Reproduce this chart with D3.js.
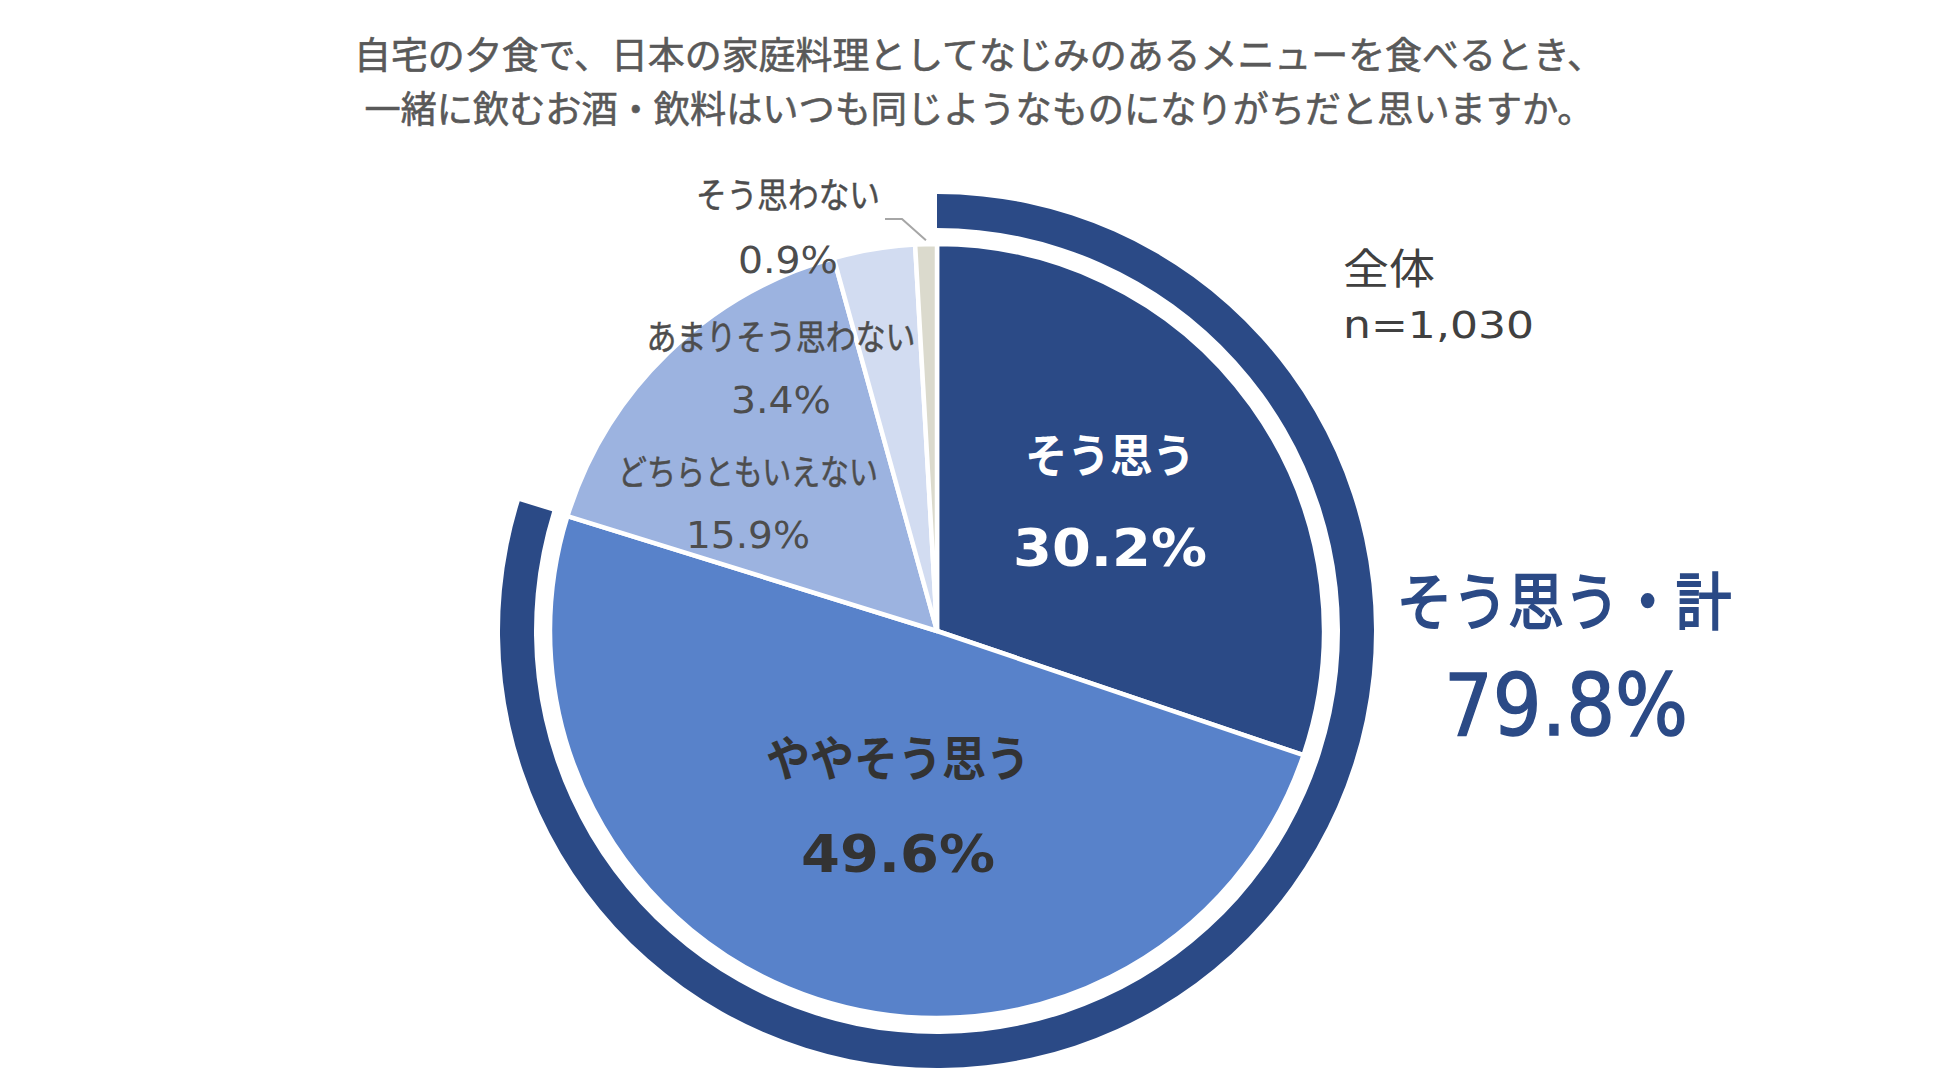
<!DOCTYPE html>
<html>
<head>
<meta charset="utf-8">
<script src="https://cdn.jsdelivr.net/npm/d3@7"></script>
<style>
  html, body { margin: 0; padding: 0; background: #fff; }
  svg text { font-family: "DejaVu Sans", "Noto Sans CJK JP", sans-serif; }
</style>
</head>
<body>
<div id="chart"></div>
<script>
/* -----------------    DATA     ------------------ */

const titleLines = [
    '自宅の夕食で、日本の家庭料理としてなじみのあるメニューを食べるとき、',
    '一緒に飲むお酒・飲料はいつも同じようなものになりがちだと思いますか。'
];
const categories = ['そう思う', 'ややそう思う', 'どちらともいえない', 'あまりそう思わない', 'そう思わない'];
const shares = [30.2, 49.6, 15.9, 3.4, 0.9];
const agreeCategories = ['そう思う', 'ややそう思う'];
const sampleLabel = ['全体', 'n=1,030'];
const totalLabel = 'そう思う・計';

/* -----------------    SETTINGS     ------------------ */

const settings = {
    width: 1950,
    height: 1087,
    cx: 937,
    cy: 631,
    pieRadius: 387,
    ringInner: 403,
    ringOuter: 437,
    colDark: '#2b4a86',
    colors: ['#2b4a86', '#5882ca', '#9cb3e0', '#d2dcf1', '#dbdacd'],
    colText: '#595959'
};

// label layout, offsets from pie centre
const labelLayout = [
    {dx: 173, nameY: -175, valY: -83, nameW: 170, valW: 194, nameSize: 46, valSize: 52, bold: true, fill: '#ffffff'},
    {dx: -39, nameY: 128, valY: 223, nameW: 264, valW: 194, nameSize: 48, valSize: 52, bold: true, fill: '#333333'},
    {dx: -189, nameY: -158, valY: -96, nameW: 260, valW: 124, nameSize: 35, valSize: 37, bold: false, fill: '#4d4d4d'},
    {dx: -156, nameY: -293, valY: -231, nameW: 269, valW: 100, nameSize: 35, valSize: 37, bold: false, fill: '#4d4d4d'},
    {dx: -149, nameY: -435, valY: -371, nameW: 184, valW: 100, nameSize: 35, valSize: 37, bold: false, fill: '#4d4d4d'}
];

/* -----------------    DRAW     ------------------ */

const svg = d3.select('#chart')
    .append('svg')
    .attr('width', settings.width)
    .attr('height', settings.height);

// title
svg.selectAll('.title')
    .data(titleLines)
    .enter()
    .append('text')
    .attr('class', 'title')
    .attr('x', 979)
    .attr('y', (d, i) => 56 + i * 54)
    .attr('text-anchor', 'middle')
    .attr('dominant-baseline', 'central')
    .attr('font-size', '37px')
    .attr('fill', settings.colText)
    .attr('stroke', settings.colText)
    .attr('stroke-width', 0.6)
    .attr('textLength', (d, i) => i === 0 ? 1250 : 1229)
    .attr('lengthAdjust', 'spacingAndGlyphs')
    .text(d => d);

const g = svg.append('g')
    .attr('transform', `translate(${settings.cx},${settings.cy})`);

const pie = d3.pie()
    .sort(null)
    .value(d => d);

const arcs = pie(shares);

const arc = d3.arc()
    .innerRadius(0)
    .outerRadius(settings.pieRadius);

g.selectAll('.slice')
    .data(arcs)
    .enter()
    .append('path')
    .attr('class', 'slice')
    .attr('d', arc)
    .attr('fill', (d, i) => settings.colors[i])
    .attr('stroke', '#fff')
    .attr('stroke-width', 4.5)
    .attr('stroke-linejoin', 'round');

// outer ring for the agree total
const agreeTotal = d3.sum(shares.filter((v, i) => agreeCategories.includes(categories[i])));
const ring = d3.arc()
    .innerRadius(settings.ringInner)
    .outerRadius(settings.ringOuter)
    .startAngle(0)
    .endAngle(2 * Math.PI * agreeTotal / d3.sum(shares));

g.append('path')
    .attr('d', ring())
    .attr('fill', settings.colDark);

// slice labels
const labels = g.selectAll('.lbl')
    .data(arcs)
    .enter()
    .append('g')
    .attr('class', 'lbl');

labels.append('text')
    .attr('x', (d, i) => labelLayout[i].dx)
    .attr('y', (d, i) => labelLayout[i].nameY)
    .attr('text-anchor', 'middle')
    .attr('dominant-baseline', 'central')
    .attr('font-size', (d, i) => labelLayout[i].nameSize + 'px')
    .attr('font-weight', (d, i) => labelLayout[i].bold ? 'bold' : 'normal')
    .attr('fill', (d, i) => labelLayout[i].fill)
    .attr('stroke', (d, i) => labelLayout[i].bold ? 'none' : labelLayout[i].fill)
    .attr('stroke-width', 0.5)
    .attr('textLength', (d, i) => labelLayout[i].nameW)
    .attr('lengthAdjust', 'spacingAndGlyphs')
    .text((d, i) => categories[i]);

labels.append('text')
    .attr('x', (d, i) => labelLayout[i].dx)
    .attr('y', (d, i) => labelLayout[i].valY)
    .attr('text-anchor', 'middle')
    .attr('dominant-baseline', 'central')
    .attr('font-size', (d, i) => labelLayout[i].valSize + 'px')
    .attr('font-weight', (d, i) => labelLayout[i].bold ? 'bold' : 'normal')
    .attr('fill', (d, i) => labelLayout[i].fill)
    .attr('textLength', (d, i) => labelLayout[i].valW)
    .attr('lengthAdjust', 'spacingAndGlyphs')
    .text(d => d.value.toFixed(1) + '%');

// leader line for the smallest slice
const last = arcs[arcs.length - 1];
const tip = d3.arc().innerRadius(settings.pieRadius + 4).outerRadius(settings.pieRadius + 4).centroid(last);
g.append('path')
    .attr('d', d3.line()([[-52, -412], [-35, -412], [tip[0], tip[1]]]))
    .attr('fill', 'none')
    .attr('stroke', '#a6a6a6')
    .attr('stroke-width', 2);

// sample size
svg.selectAll('.sample')
    .data(sampleLabel)
    .enter()
    .append('text')
    .attr('class', 'sample')
    .attr('x', 1343)
    .attr('y', (d, i) => 269 + i * 56)
    .attr('dominant-baseline', 'central')
    .attr('font-size', (d, i) => i === 0 ? '42px' : '38px')
    .attr('fill', '#404040')
    .attr('textLength', (d, i) => i === 0 ? 92 : 191)
    .attr('lengthAdjust', 'spacingAndGlyphs')
    .text(d => d);

// total of agree
svg.append('text')
    .attr('x', 1564)
    .attr('y', 603)
    .attr('text-anchor', 'middle')
    .attr('dominant-baseline', 'central')
    .attr('font-size', '62px')
    .attr('fill', settings.colDark)
    .attr('stroke', settings.colDark)
    .attr('stroke-width', 2)
    .attr('textLength', 335)
    .attr('lengthAdjust', 'spacingAndGlyphs')
    .text(totalLabel);

svg.append('text')
    .attr('x', 1566)
    .attr('y', 705)
    .attr('text-anchor', 'middle')
    .attr('dominant-baseline', 'central')
    .attr('font-size', '86px')
    .attr('fill', settings.colDark)
    .attr('stroke', settings.colDark)
    .attr('stroke-width', 1.5)
    .attr('textLength', 244)
    .attr('lengthAdjust', 'spacingAndGlyphs')
    .text(agreeTotal.toFixed(1) + '%');
</script>
</body>
</html>
